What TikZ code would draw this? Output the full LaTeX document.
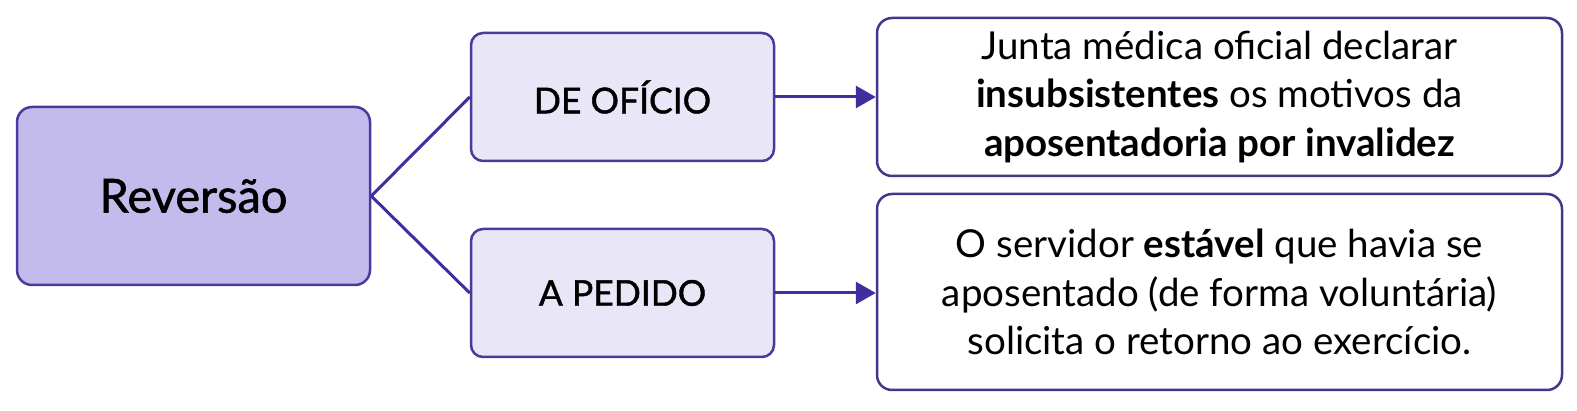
\documentclass[tikz,border=0pt]{standalone}
\usepackage{fontspec}
\setmainfont{Lato}
\usetikzlibrary{arrows.meta}
\definecolor{edge}{HTML}{4A3A9C}
\definecolor{line}{HTML}{3F2E9E}
\definecolor{revfill}{HTML}{C3BBEB}
\definecolor{subfill}{HTML}{E9E6F8}
\definecolor{outedge}{HTML}{40388A}
\tikzset{
  revbox/.style={draw=edge, line width=2.5pt, fill=revfill, rounded corners=15pt, inner sep=0pt,
    minimum width=353pt, minimum height=178pt, font=\fontsize{47}{52}\selectfont\addfontfeature{FakeBold=1.2}},
  subbox/.style={draw=edge, line width=2.5pt, fill=subfill, rounded corners=12pt, inner sep=0pt,
    minimum width=303pt, minimum height=128pt, font=\fontsize{35.5}{40}\selectfont\addfontfeature{FakeBold=1.2}},
  descbox/.style={draw=outedge, line width=2.5pt, fill=white, rounded corners=15pt, inner sep=0pt,
    minimum width=685pt, align=center, font=\fontsize{38.5}{48.5}\selectfont},
  conn/.style={draw=line, line width=3pt},
  arr/.style={draw=line, line width=3pt, -{Triangle[length=20pt,width=22pt]}}
}
\begin{document}
\begin{tikzpicture}[x=1pt,y=-1pt]
\useasboundingbox (0,0) rectangle (1577,411);
\node[revbox] (rev) at (193.5,196) {Reversão};
\node[subbox] (dof) at (622.5,97) {DE OFÍCIO};
\node[subbox] (ap) at (622.5,293) {A PEDIDO};
\node[descbox, minimum height=158pt] (j1) at (1219.5,97) {Junta médica oficial declarar\\\textbf{insubsistentes} os motivos da\\\textbf{aposentadoria por invalidez}};
\node[descbox, minimum height=196pt] (j2) at (1219.5,292) {O servidor \textbf{estável} que havia se\\aposentado (de forma voluntária)\\solicita o retorno ao exercício.};
\draw[conn] (rev.east) -- (dof.west);
\draw[conn] (rev.east) -- (ap.west);
\draw[arr] (dof.east) -- (j1.west);
\draw[arr] (ap.east) -- (ap.east -| j2.west);
\end{tikzpicture}
\end{document}
